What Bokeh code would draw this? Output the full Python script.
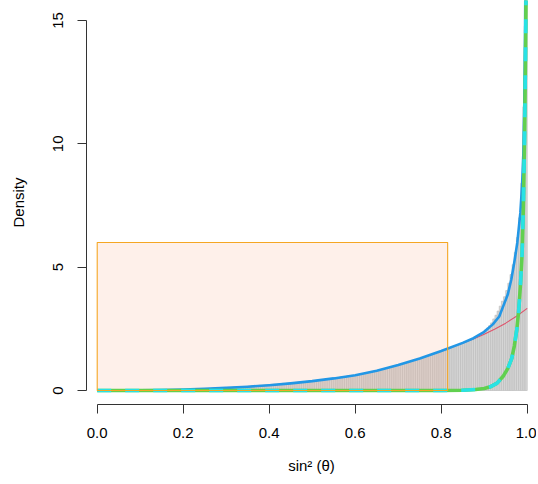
from bokeh.plotting import figure
from bokeh.models import Range1d, FixedTicker, ColumnDataSource
from bokeh.embed import file_html
from bokeh.resources import INLINE

# ---- data ----
bin_width = 0.005
hist_heights = [
    0, 0, 0, 0, 0, 0, 0, 0, 0, 0, 0, 0, 0, 0, 0, 0, 0, 0.01, 0.01, 0.01,
    0.01, 0.01, 0.01, 0.01, 0.01, 0.02, 0.02, 0.02, 0.02, 0.02, 0.02, 0.02, 0.03, 0.03, 0.03, 0.03, 0.03, 0.03, 0.04, 0.04,
    0.04, 0.04, 0.04, 0.05, 0.05, 0.05, 0.06, 0.06, 0.06, 0.07, 0.07, 0.07, 0.08, 0.08, 0.09, 0.09, 0.09, 0.10, 0.10, 0.11,
    0.11, 0.12, 0.12, 0.13, 0.13, 0.14, 0.14, 0.15, 0.16, 0.16, 0.17, 0.18, 0.18, 0.19, 0.20, 0.21, 0.21, 0.22, 0.23, 0.24,
    0.24, 0.25, 0.26, 0.26, 0.27, 0.28, 0.29, 0.29, 0.30, 0.31, 0.32, 0.32, 0.33, 0.34, 0.35, 0.35, 0.36, 0.37, 0.37, 0.38,
    0.39, 0.40, 0.41, 0.42, 0.43, 0.44, 0.45, 0.46, 0.47, 0.48, 0.49, 0.50, 0.52, 0.53, 0.54, 0.56, 0.57, 0.58, 0.60, 0.61,
    0.62, 0.64, 0.66, 0.67, 0.69, 0.71, 0.73, 0.75, 0.77, 0.79, 0.81, 0.83, 0.85, 0.87, 0.89, 0.91, 0.93, 0.96, 0.98, 1.00,
    1.03, 1.05, 1.08, 1.10, 1.13, 1.15, 1.18, 1.21, 1.23, 1.26, 1.29, 1.32, 1.35, 1.38, 1.41, 1.44, 1.47, 1.50, 1.53, 1.56,
    1.59, 1.62, 1.65, 1.68, 1.71, 1.75, 1.78, 1.81, 1.85, 1.88, 1.91, 1.95, 1.99, 2.03, 2.07, 2.11, 2.16, 2.21, 2.26, 2.32,
    2.45, 2.53, 2.62, 2.74, 2.90, 3.05, 3.22, 3.42, 3.62, 3.80, 4.05, 4.35, 4.70, 5.10, 5.60, 6.20, 7.00, 8.40, 11.5, 30.0,
]

blue_x = [0.0, 0.05, 0.1, 0.15, 0.2, 0.25, 0.3, 0.35, 0.4, 0.45, 0.5, 0.55, 0.6, 0.65, 0.7, 0.75,
          0.8, 0.85, 0.875, 0.9, 0.92, 0.935, 0.945, 0.955, 0.963, 0.97, 0.977, 0.984, 0.988,
          0.991, 0.993, 0.995, 0.997, 0.999]
blue_y = [0.0, 0.001, 0.005, 0.015, 0.035, 0.065, 0.105, 0.155, 0.215, 0.29, 0.38, 0.49, 0.62, 0.80, 1.03, 1.30,
          1.60, 1.93, 2.12, 2.38, 2.68, 3.0, 3.45, 3.9, 4.5, 5.2, 6.0, 7.2, 8.3,
          9.6, 11.3, 14.5, 20.0, 35.0]

red_x = [0.0, 0.05, 0.1, 0.15, 0.2, 0.25, 0.3, 0.35, 0.4, 0.45, 0.5, 0.55, 0.6, 0.65, 0.7, 0.75,
         0.8, 0.85, 0.875, 0.9, 0.925, 0.95, 0.975, 1.0]
red_y = [0.0, 0.001, 0.005, 0.015, 0.035, 0.065, 0.105, 0.155, 0.215, 0.29, 0.38, 0.49, 0.62, 0.80, 1.03, 1.30,
         1.60, 1.93, 2.09, 2.28, 2.49, 2.73, 3.01, 3.33]

green_x = [0.0, 0.5, 0.8, 0.85, 0.88, 0.9, 0.914, 0.93, 0.945, 0.955, 0.964, 0.97, 0.976, 0.98, 0.984,
           0.988, 0.991, 0.994, 0.996, 0.998, 0.9995]
green_y = [0.0, 0.0, 0.0, 0.01, 0.04, 0.08, 0.15, 0.3, 0.6, 0.9, 1.3, 1.8, 2.5, 3.2, 4.2,
           5.5, 7.4, 10.4, 13.5, 17.5, 25.0]

rect_x = [0.0, 0.815]
rect_y = [0.0, 6.0]

x_ticks = [0.0, 0.2, 0.4, 0.6, 0.8, 1.0]
x_tick_labels = ["0.0", "0.2", "0.4", "0.6", "0.8", "1.0"]
y_ticks = [0, 5, 10, 15]
y_tick_labels = ["0", "5", "10", "15"]

FONT = "Liberation Sans"

p = figure(width=536, height=482, output_backend="svg", toolbar_location=None,
           x_range=Range1d(-0.0249, 1.0216), y_range=Range1d(-0.5676, 15.81),
           min_border_left=86, min_border_right=0, min_border_top=0, min_border_bottom=78)
p.outline_line_color = None
p.grid.grid_line_color = None
p.background_fill_color = "white"
p.border_fill_color = "white"

# histogram
lefts = [i * bin_width for i in range(len(hist_heights))]
rights = [(i + 1) * bin_width for i in range(len(hist_heights))]
src = ColumnDataSource(dict(left=lefts, right=rights, top=hist_heights,
                            bottom=[0] * len(hist_heights)))
p.quad(left="left", right="right", top="top", bottom="bottom", source=src,
       fill_color="#D6D6D6", line_color="#BDBDBD", line_width=0.7)

# rectangle fill (semi-transparent)
p.quad(left=[rect_x[0]], right=[rect_x[1]], bottom=[rect_y[0]], top=[rect_y[1]],
       fill_color="#F8B494", fill_alpha=0.2, line_color=None)

# curves
p.line(red_x, red_y, line_color="#DF536B", line_width=1.1)
p.line(blue_x, blue_y, line_color="#2297E6", line_width=2.6, line_join="round")
p.line(green_x, green_y, line_color="#61D04F", line_width=3.6, line_join="round")
p.line(green_x, green_y, line_color="#28E2E5", line_width=3.6, line_dash="14 14", line_join="round")

# rectangle outline
p.quad(left=[rect_x[0]], right=[rect_x[1]], bottom=[rect_y[0]], top=[rect_y[1]],
       fill_color=None, line_color="#F5A623", line_width=1.1)

# axes
xa = p.xaxis[0]
xa.ticker = FixedTicker(ticks=x_ticks)
xa.major_label_overrides = {t: l for t, l in zip(x_ticks, x_tick_labels)}
xa.bounds = (0, 1)
ya = p.yaxis[0]
ya.ticker = FixedTicker(ticks=y_ticks)
ya.major_label_overrides = {t: l for t, l in zip(y_ticks, y_tick_labels)}
ya.bounds = (0, 15)
ya.major_label_orientation = "vertical"

for ax in (xa, ya):
    ax.axis_line_color = "#333333"
    ax.major_tick_line_color = "#333333"
    ax.major_tick_out = 9
    ax.major_tick_in = 0
    ax.minor_tick_line_color = None
    ax.major_label_text_font = FONT
    ax.major_label_text_font_size = "15px"
    ax.major_label_text_color = "black"
    ax.axis_label_text_font = FONT
    ax.axis_label_text_font_size = "15px"
    ax.axis_label_text_font_style = "normal"
    ax.axis_label_text_color = "black"

xa.axis_label = "sin\u00b2 (\u03b8)"
ya.axis_label = "Density"
xa.major_label_standoff = 14
ya.major_label_standoff = 14
xa.axis_label_standoff = 16
ya.axis_label_standoff = 24

open("out.html", "w").write(file_html(p, INLINE))
